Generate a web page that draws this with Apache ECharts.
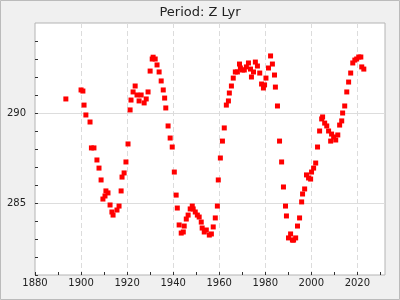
<!DOCTYPE html>
<html>
<head>
<meta charset="utf-8">
<script src="https://cdn.jsdelivr.net/npm/echarts@6/dist/echarts.min.js"></script>
<style>html,body{margin:0;padding:0;background:#f0f0f0}#c{width:400px;height:300px}</style>
</head>
<body>
<div id="c"></div>
<script>
var titleText = 'Period: Z Lyr';
var years = [1893.4,1900.0,1900.8,1901.3,1902.1,1903.9,1904.5,1905.6,1906.9,1907.8,1908.7,1909.5,1910.4,1910.8,1911.7,1912.6,1913.4,1913.9,1915.6,1916.5,1917.4,1917.8,1918.7,1919.5,1920.4,1921.3,1921.7,1922.6,1923.5,1924.3,1925.2,1926.1,1927.4,1928.3,1929.1,1930.0,1930.9,1931.3,1932.2,1933.0,1933.9,1934.8,1935.7,1936.3,1936.8,1937.8,1938.7,1939.6,1940.5,1941.3,1941.8,1942.6,1943.5,1944.4,1944.8,1945.7,1946.5,1947.4,1948.3,1948.7,1949.6,1950.5,1951.3,1952.2,1952.6,1953.5,1954.4,1955.7,1956.6,1957.4,1958.3,1959.2,1959.6,1960.5,1961.4,1962.2,1963.1,1964.0,1964.4,1965.3,1966.1,1967.0,1967.9,1968.8,1969.2,1970.1,1970.9,1971.8,1972.7,1973.6,1974.0,1974.9,1975.7,1976.6,1977.6,1978.4,1979.2,1979.7,1980.3,1981.4,1982.3,1983.1,1984.0,1984.4,1985.3,1986.2,1987.1,1987.9,1988.8,1989.2,1990.1,1991.0,1991.8,1992.3,1993.2,1994.0,1994.9,1995.8,1996.2,1997.1,1997.9,1998.8,1999.7,2000.1,2001.0,2001.9,2002.7,2003.6,2004.5,2004.9,2005.8,2006.7,2007.5,2008.4,2008.8,2009.7,2010.6,2011.5,2012.3,2013.2,2013.6,2014.5,2015.4,2016.2,2017.1,2018.0,2018.9,2019.7,2020.6,2021.5,2021.9,2022.8];
var periods = [290.78,291.28,291.22,290.44,289.89,289.5,288.06,288.06,287.39,286.94,286.28,285.22,285.39,285.67,285.56,284.89,284.5,284.33,284.61,284.83,285.67,286.44,286.67,287.28,288.28,290.17,290.72,291.17,291.5,291.0,290.67,291.0,290.56,290.78,291.17,292.33,293.0,293.1,293.0,292.67,292.28,291.78,291.28,290.83,290.28,289.28,288.61,288.11,286.72,285.44,284.72,283.78,283.33,283.39,283.72,284.11,284.33,284.67,284.83,284.67,284.5,284.33,284.22,283.94,283.61,283.39,283.5,283.22,283.28,283.67,284.17,284.83,286.28,287.5,288.44,289.17,290.44,290.67,291.11,291.5,291.94,292.28,292.28,292.72,292.5,292.39,292.39,292.56,292.78,292.44,292.0,292.28,292.83,292.61,292.22,291.61,291.39,291.56,291.94,292.5,293.17,292.72,292.11,291.44,290.39,288.44,287.28,285.89,284.83,284.28,283.06,283.28,282.94,282.94,283.06,283.72,284.17,285.06,285.5,285.78,286.56,286.39,286.33,286.72,286.94,287.22,288.11,289.0,289.67,289.78,289.44,289.28,289.0,288.44,288.83,288.67,288.5,288.78,289.33,289.56,290.0,290.39,291.17,291.72,292.22,292.78,292.94,293.0,293.11,293.11,292.56,292.44];
var xRange = [1880, 2032];
var yRange = [281, 295];

var data = years.map(function (y, i) { return [y, periods[i]]; });
var chart = echarts.init(document.getElementById('c'), null, {renderer: 'canvas'});
var T = 'rgba(0,0,0,0)';
chart.setOption({
  backgroundColor: '#f0f0f0',
  animation: false,
  title: {
    text: titleText, left: 'center', top: 1,
    textStyle: {fontFamily: 'DejaVu Sans', fontSize: 13, fontWeight: 'normal', color: '#222'}
  },
  graphic: [{
    type: 'rect', silent: true, z: 100,
    shape: {x: 0.5, y: 0.5, width: 399, height: 299},
    style: {fill: 'none', stroke: '#bbbbbb', lineWidth: 1}
  }],
  grid: {
    left: 35, top: 23, right: 15, bottom: 25, show: true,
    backgroundColor: '#ffffff', borderColor: '#b4b4b4', borderWidth: 1
  },
  xAxis: {
    type: 'value', min: xRange[0], max: xRange[1], interval: 10,
    axisLine: {show: false},
    axisTick: {show: true, inside: true, length: 3, lineStyle: {color: '#333'}},
    axisLabel: {
      margin: 3, fontFamily: 'DejaVu Sans', fontSize: 10, color: '#222',
      showMaxLabel: false,
      formatter: function (v) { return v % 20 === 0 ? String(v) : ''; }
    },
    splitLine: {
      show: true, showMinLine: false, showMaxLine: false,
      lineStyle: {color: [T, '#dcdcdc'], type: [5, 3], width: 1}
    }
  },
  yAxis: {
    type: 'value', min: yRange[0], max: yRange[1], interval: 1,
    axisLine: {show: false},
    axisTick: {show: true, inside: true, length: 3, lineStyle: {color: '#333'}},
    axisLabel: {
      margin: 9, fontFamily: 'DejaVu Sans', fontSize: 10, color: '#222',
      showMaxLabel: false,
      formatter: function (v) { return (v % 5 === 0 && v < yRange[1]) ? String(v) : ''; }
    },
    splitLine: {
      show: true, showMinLine: false, showMaxLine: false,
      lineStyle: {color: [T, T, T, '#dddddd', T], type: 'solid', width: 1}
    }
  },
  series: [{
    type: 'scatter', data: data, symbol: 'rect', symbolSize: 5,
    itemStyle: {color: '#ff0000', opacity: 1}
  }]
});
</script>
</body>
</html>
